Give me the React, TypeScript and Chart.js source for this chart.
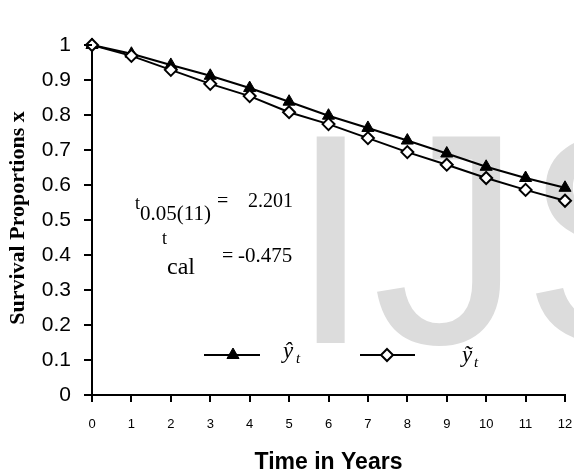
import React, { useEffect, useRef } from "react";
import { Chart, registerables } from "chart.js";

Chart.register(...registerables);

const years = [0, 1, 2, 3, 4, 5, 6, 7, 8, 9, 10, 11, 12];
const yHat = [1.0, 0.975, 0.943, 0.912, 0.877, 0.838, 0.798, 0.763, 0.727, 0.69, 0.652, 0.62, 0.592];
const yTilde = [1.0, 0.969, 0.929, 0.889, 0.854, 0.808, 0.774, 0.734, 0.694, 0.658, 0.62, 0.586, 0.555];
const xTitle = "Time in Years";
const yTitle = "Survival Proportions x";
const legendLabels = ["\u0177", "\u1EF9"];
const annot1 = ["t", "0.05(11)", "=", "2.201"];
const annot2 = ["t", "cal", "=", "-0.475"];
const watermark = "IJSER";

const SERIF = "'Liberation Serif', 'Times New Roman', serif";
const SANS = "'Liberation Sans', Arial, sans-serif";

const decorPlugin = {
  id: "decor",
  beforeDraw(chart: any) {
    const ctx = chart.ctx;
    ctx.save();
    ctx.fillStyle = "#ffffff";
    ctx.fillRect(0, 0, chart.width, chart.height);
    ctx.fillStyle = "#dcdcdc";
    ctx.font = `300px ${SANS}`;
    ctx.textBaseline = "alphabetic";
    ctx.textAlign = "left";
    ctx.fillText(watermark, 289, 343);
    ctx.restore();
  },
  afterDraw(chart: any) {
    const ctx = chart.ctx;
    const ca = chart.chartArea;
    const xs = chart.scales.x;
    const ys = chart.scales.y;
    ctx.save();
    // tick marks
    ctx.strokeStyle = "#000";
    ctx.lineWidth = 2;
    ctx.beginPath();
    xs.ticks.forEach((t: any) => {
      const px = Math.round(xs.getPixelForValue(t.value));
      ctx.moveTo(px, ca.bottom);
      ctx.lineTo(px, ca.bottom + 7);
    });
    ys.ticks.forEach((t: any) => {
      const py = Math.round(ys.getPixelForValue(t.value));
      ctx.moveTo(ca.left - 8, py);
      ctx.lineTo(ca.left, py);
    });
    ctx.stroke();

    ctx.fillStyle = "#000";
    ctx.font = `bold 23px ${SANS}`;
    ctx.textAlign = "center";
    ctx.textBaseline = "alphabetic";
    ctx.fillText(xTitle, (ca.left + ca.right) / 2, 469);
    ctx.save();
    ctx.translate(24, 218);
    ctx.rotate(-Math.PI / 2);
    ctx.font = `bold 22px ${SERIF}`;
    ctx.fillText(yTitle, 0, 0);
    ctx.restore();

    // annotations
    ctx.textAlign = "left";
    ctx.font = `18px ${SERIF}`;
    ctx.fillText(annot1[0], 135, 209);
    ctx.font = `21px ${SERIF}`;
    ctx.fillText(annot1[1], 140, 220);
    ctx.font = `20px ${SERIF}`;
    ctx.fillText(annot1[2], 217, 207);
    ctx.fillText(annot1[3], 248, 207);
    ctx.font = `18px ${SERIF}`;
    ctx.fillText(annot2[0], 162, 244);
    ctx.font = `24px ${SERIF}`;
    ctx.fillText(annot2[1], 167, 274);
    ctx.font = `20px ${SERIF}`;
    ctx.fillText(annot2[2], 222, 262);
    ctx.font = `21px ${SERIF}`;
    ctx.fillText(annot2[3], 238, 262);

    // legend
    const ly = 355;
    ctx.strokeStyle = "#000";
    ctx.lineWidth = 2;
    ctx.beginPath();
    ctx.moveTo(204, ly);
    ctx.lineTo(260, ly);
    ctx.moveTo(360, ly);
    ctx.lineTo(415, ly);
    ctx.stroke();
    const r = 7;
    const tx = 233;
    ctx.beginPath();
    ctx.moveTo(tx, ly - r);
    ctx.lineTo(tx + r * 0.866, ly + r * 0.5);
    ctx.lineTo(tx - r * 0.866, ly + r * 0.5);
    ctx.closePath();
    ctx.fillStyle = "#000";
    ctx.fill();
    ctx.lineWidth = 1;
    ctx.stroke();
    const dx = 387;
    const d = 6;
    ctx.beginPath();
    ctx.moveTo(dx, ly - d);
    ctx.lineTo(dx + d, ly);
    ctx.lineTo(dx, ly + d);
    ctx.lineTo(dx - d, ly);
    ctx.closePath();
    ctx.fillStyle = "#fff";
    ctx.fill();
    ctx.lineWidth = 2;
    ctx.stroke();
    ctx.fillStyle = "#000";
    ctx.font = `italic 23px ${SERIF}`;
    ctx.fillText(legendLabels[0], 283, 358);
    ctx.fillText(legendLabels[1], 462, 362);
    ctx.font = `italic 15px ${SERIF}`;
    ctx.fillText("t", 296, 363);
    ctx.fillText("t", 474, 367);
    ctx.restore();
  },
};

export default function App() {
  const ref = useRef<HTMLCanvasElement | null>(null);
  useEffect(() => {
    document.body.style.margin = "0";
    const canvas = ref.current!;
    const chart = new Chart(canvas, {
      type: "line",
      data: {
        datasets: [
          {
            label: "yhat",
            data: years.map((x, i) => ({ x, y: yHat[i] })),
            borderColor: "#000",
            borderWidth: 2,
            backgroundColor: "#000",
            pointStyle: "triangle",
            pointRadius: 7,
            pointBorderWidth: 1,
            pointBorderColor: "#000",
            pointBackgroundColor: "#000",
            tension: 0,
            clip: false,
            order: 2,
          },
          {
            label: "ytilde",
            data: years.map((x, i) => ({ x, y: yTilde[i] })),
            borderColor: "#000",
            borderWidth: 2,
            backgroundColor: "#fff",
            pointStyle: "rectRot",
            pointRadius: 6,
            pointBorderWidth: 2,
            pointBorderColor: "#000",
            pointBackgroundColor: "#fff",
            tension: 0,
            clip: false,
            order: 1,
          },
        ],
      },
      options: {
        animation: false,
        responsive: false,
        devicePixelRatio: 1,
        layout: { padding: { left: 0, right: 9, top: 45, bottom: 0 } },
        plugins: {
          legend: { display: false },
          tooltip: { enabled: false },
          title: { display: false },
        },
        scales: {
          x: {
            type: "linear",
            min: 0,
            max: 12,
            afterFit: (s: any) => {
              s.height = 78;
              s.paddingLeft = 0;
              s.paddingRight = 0;
            },
            ticks: {
              stepSize: 1,
              color: "#000",
              padding: 15,
              font: { family: SANS, size: 13 },
              maxRotation: 0,
            },
            grid: {
              display: true,
              drawOnChartArea: false,
              drawTicks: true,
              tickLength: 7,
              color: "#000",
              tickColor: "#000",
              tickWidth: 2,
              lineWidth: 2,
            },
            border: { display: true, color: "#000", width: 2 },
          },
          y: {
            min: 0,
            max: 1,
            afterFit: (s: any) => {
              s.width = 92;
              s.paddingTop = 0;
              s.paddingBottom = 0;
            },
            ticks: {
              stepSize: 0.1,
              color: "#000",
              padding: 13,
              font: { family: SANS, size: 21 },
              callback: (v: any) => String(Number(Number(v).toFixed(1))),
            },
            grid: {
              display: true,
              drawOnChartArea: false,
              drawTicks: true,
              tickLength: 8,
              color: "#000",
              tickColor: "#000",
              tickWidth: 2,
              lineWidth: 2,
            },
            border: { display: true, color: "#000", width: 2 },
          },
        },
      },
      plugins: [decorPlugin],
    });
    return () => chart.destroy();
  }, []);
  return <canvas ref={ref} width={574} height={473} style={{ display: "block" }} />;
}
